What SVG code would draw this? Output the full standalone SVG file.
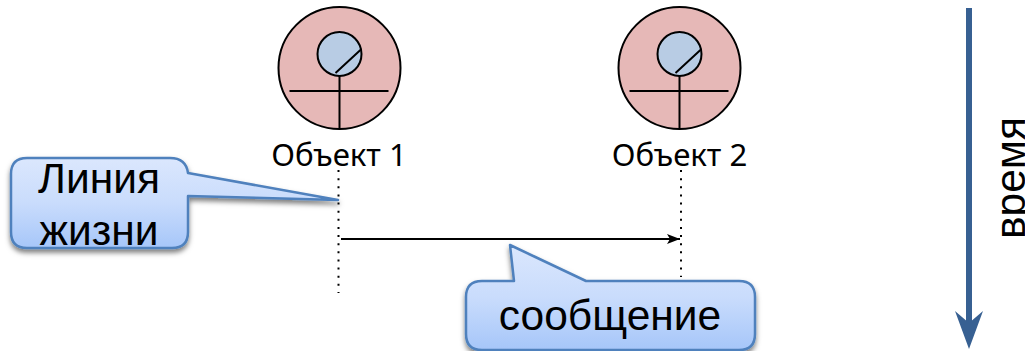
<svg xmlns="http://www.w3.org/2000/svg" width="1025" height="351" viewBox="0 0 1025 351">
<style>
.fig{stroke:#000;stroke-width:2;fill:none}
.lab{font-family:"Noto Sans",sans-serif;font-size:31.200px;fill:#000;text-anchor:middle}
.big{font-family:"Liberation Sans",Arial,sans-serif;font-size:42.500px;fill:#000;text-anchor:middle}
.life{stroke:#000;stroke-width:2;stroke-dasharray:2 6.130;fill:none}
.call{fill:url(#cg);stroke:#4f81bd;stroke-width:2.500;stroke-linejoin:round;filter:url(#sh)}
</style>
<defs>
<linearGradient id="cg" x1="0" y1="0" x2="0" y2="1"><stop offset="0" stop-color="#dbe7fd"/><stop offset="0.5" stop-color="#c9dcfc"/><stop offset="1" stop-color="#a6c6f9"/></linearGradient>
<filter id="sh" x="-10%" y="-10%" width="120%" height="125%"><feDropShadow dx="0" dy="3.500" stdDeviation="2.500" flood-color="#000" flood-opacity="0.5"/></filter>
<marker id="ah" markerUnits="userSpaceOnUse" markerWidth="14" markerHeight="12" refX="13" refY="6" orient="auto"><path d="M0 1L13 6L0 11L3 6Z" fill="#000"/></marker>
<g id="fig">
<circle cx="0" cy="0" r="61" fill="#e6b8b7" stroke="#000" stroke-width="2"/>
<circle cx="0" cy="-14" r="22" fill="#b8cce4" stroke="#000" stroke-width="2"/>
<path class="fig" d="M22-19L-4 5M0 8V61M-50 23H49"/>
</g>
</defs>
<g id="connectors">
<path class="life" d="M338.500 170V293"/>
<path class="life" d="M681 170V277"/>
<path d="M341 239H680" stroke="#000" stroke-width="2" fill="none" marker-end="url(#ah)"/>
<path d="M969 8V325" stroke="#376092" stroke-width="6" fill="none"/>
<path d="M955 311L969 349L983 311L969 323Z" fill="#376092"/>
</g>
<g id="object1"><use href="#fig" x="339.500" y="68"/><text class="lab" x="339" y="166">Объект 1</text></g>
<g id="object2"><use href="#fig" x="679.500" y="68"/><text class="lab" x="679.500" y="166">Объект 2</text></g>
<g id="callout-life">
<path class="call" d="M27 158H170Q186 158 188 173L338 200L188 196V232Q188 248 172 248H27Q11 248 11 232V174Q11 158 27 158Z"/>
<text class="big" x="99" y="193">Линия</text>
<text class="big" x="99" y="245">жизни</text>
</g>
<g id="callout-message">
<path class="call" d="M482 281H514L510 245L586 281H739Q755 281 755 297V334Q755 350 739 350H482Q466 350 466 334V297Q466 281 482 281Z"/>
<text class="big" x="610" y="330">сообщение</text>
</g>
<g id="time-label"><text class="big" transform="translate(1025 178) rotate(-90)" x="0" y="0">время</text></g>
</svg>
